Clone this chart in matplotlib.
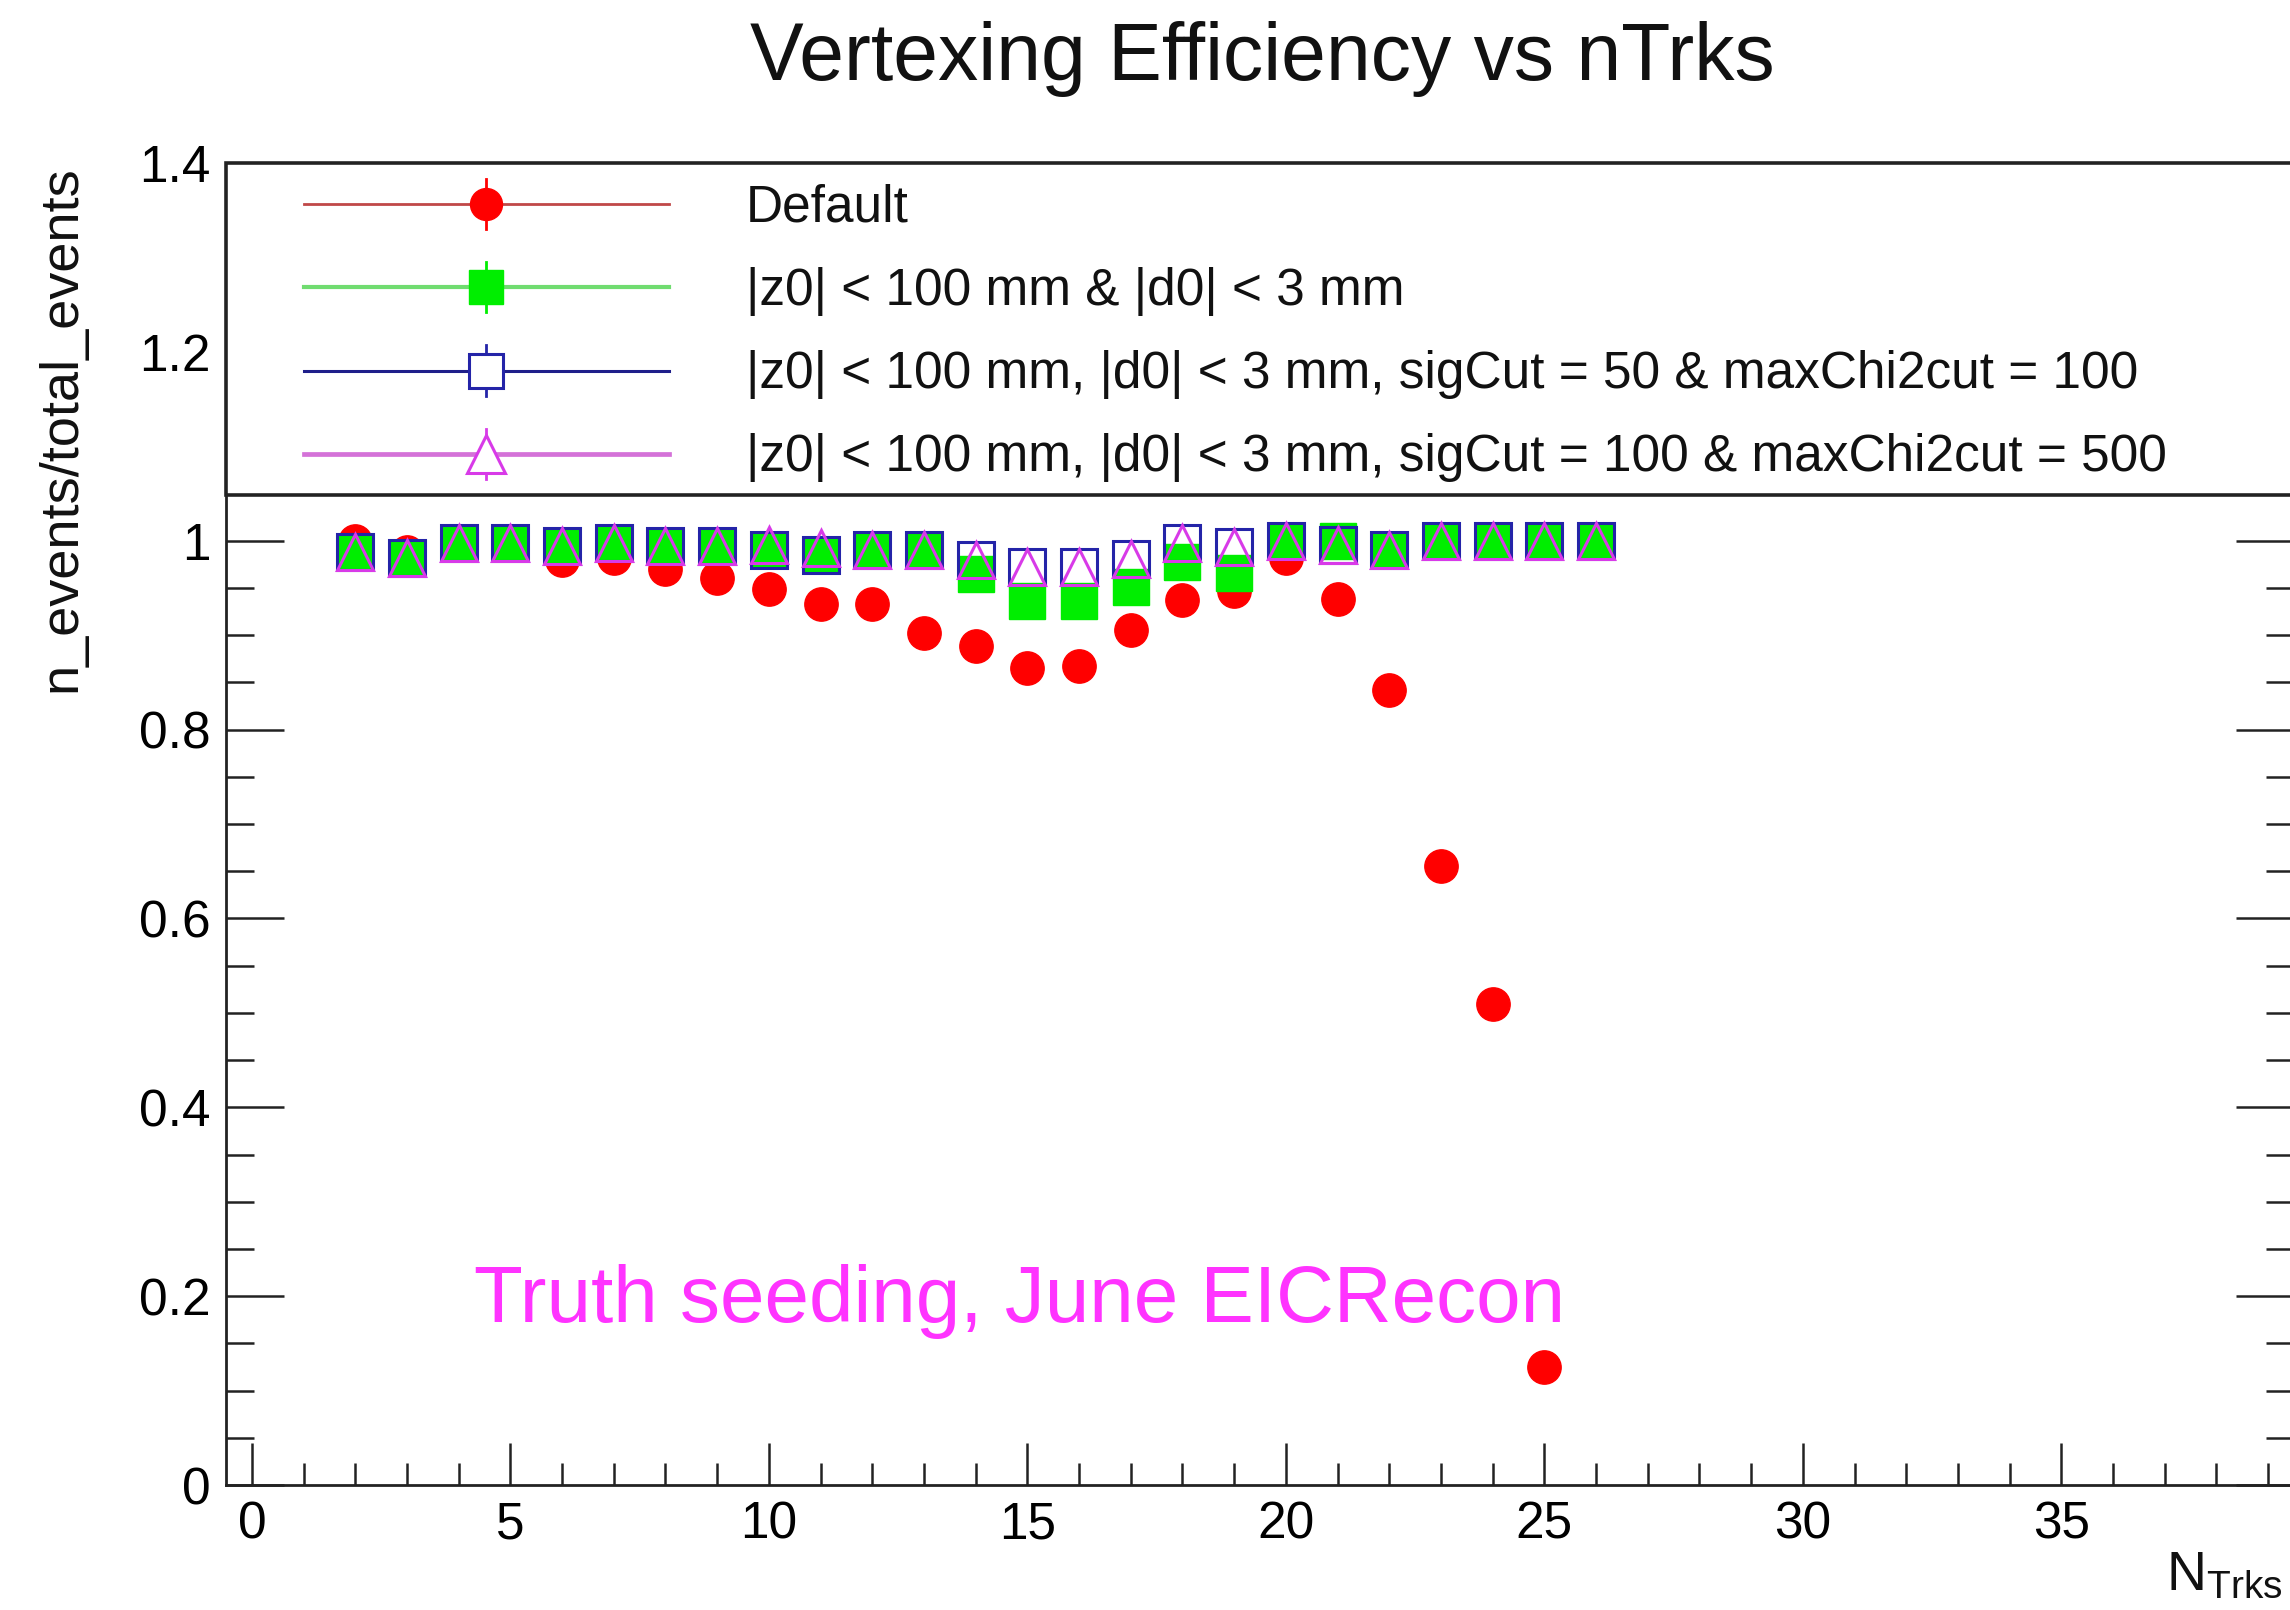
#!/usr/bin/env python3

import numpy as np
import matplotlib as mpl
mpl.use('Agg')
import matplotlib.pyplot as plt
from matplotlib.patches import Rectangle
from matplotlib.ticker import MultipleLocator, FuncFormatter

# efficiency per number of tracks
ntrks = [2, 3, 4, 5, 6, 7, 8, 9, 10, 11, 12, 13, 14, 15, 16, 17, 18, 19, 20,
         21, 22, 23, 24, 25, 26]
ntrks_default = ntrks[:-1]
eff_default = [1.0, 0.988, 1.0, 1.0, 0.980, 0.982, 0.970, 0.960, 0.949, 0.933,
               0.933, 0.902, 0.889, 0.865, 0.867, 0.905, 0.937, 0.947, 0.982,
               0.938, 0.842, 0.655, 0.509, 0.125]
eff_z0d0 = [0.988, 0.982, 0.998, 0.998, 0.994, 0.998, 0.994, 0.994, 0.990, 0.985,
            0.990, 0.990, 0.965, 0.936, 0.936, 0.951, 0.977, 0.966, 1.0, 1.0,
            0.990, 1.0, 1.0, 1.0, 1.0]
eff_sig50 = [0.988, 0.982, 0.998, 0.998, 0.994, 0.998, 0.994, 0.994, 0.990, 0.985,
             0.990, 0.990, 0.980, 0.972, 0.972, 0.981, 0.998, 0.993, 1.0, 0.995,
             0.990, 1.0, 1.0, 1.0, 1.0]
eff_sig100 = [0.988, 0.982, 0.998, 0.998, 0.994, 0.998, 0.994, 0.994, 0.995, 0.992,
              0.990, 0.990, 0.980, 0.972, 0.972, 0.981, 0.998, 0.993, 1.0, 0.995,
              0.990, 1.0, 1.0, 1.0, 1.0]

labels = ['Default',
          '|z0| < 100 mm & |d0| < 3 mm',
          '|z0| < 100 mm, |d0| < 3 mm, sigCut = 50 & maxChi2cut = 100',
          '|z0| < 100 mm, |d0| < 3 mm, sigCut = 100 & maxChi2cut = 500']

FONT = 'Liberation Sans'
mpl.rcParams['font.family'] = [FONT, 'DejaVu Sans']
mpl.rcParams['mathtext.fontset'] = 'custom'
mpl.rcParams['mathtext.rm'] = FONT

fig = plt.figure(figsize=(22.9, 16.1), dpi=100)
ax = fig.add_axes([226/2290, 1-1485/1610, 2068/2290, (1485-163)/1610])
ax.set_xlim(-0.5, 39.5)
ax.set_ylim(0, 1.4)

# marker styles (ROOT 20, 21, 25, 26)
styles = [
    dict(marker='o', ms=24, mfc='#ff0000', mec='#ff0000', mew=1),
    dict(marker='s', ms=26, mfc='#00ee00', mec='#00ee00', mew=1),
    dict(marker='s', ms=26, mfc='none', mec='#2424a8', mew=2.2),
    dict(marker='^', ms=26, mfc='none', mec='#d83ae8', mew=2.2),
]
series = [(ntrks_default, eff_default), (ntrks, eff_z0d0),
          (ntrks, eff_sig50), (ntrks, eff_sig100)]
for i, (xs, ys) in enumerate(series):
    ax.plot(xs, ys, ls='none', zorder=3+i, **styles[i])

# axis cosmetics, ROOT style
ax.xaxis.set_major_locator(MultipleLocator(5))
ax.xaxis.set_minor_locator(MultipleLocator(1))
ax.yaxis.set_major_locator(MultipleLocator(0.2))
ax.yaxis.set_minor_locator(MultipleLocator(0.05))
ax.yaxis.set_major_formatter(FuncFormatter(lambda v, p: '%g' % round(v, 2)))
ax.tick_params(axis='both', which='both', direction='in', width=1.8,
               labelsize=37, color='#222222')
ax.tick_params(axis='x', which='major', length=30, pad=11, top=False)
ax.tick_params(axis='x', which='minor', length=16, top=False)
ax.tick_params(axis='y', which='major', length=42, pad=11, right=True)
ax.tick_params(axis='y', which='minor', length=20, right=True)
for s in ax.spines.values():
    s.set_linewidth(2)
    s.set_color('#222222')
ax.spines['top'].set_visible(False)

# legend box drawn by hand
leg_bottom = 0.749
ax.add_patch(Rectangle((0, leg_bottom), 1.02, 1 - leg_bottom,
                       transform=ax.transAxes, facecolor='white',
                       edgecolor='#222222', lw=2.6, zorder=10, clip_on=False))
rows = [0.969, 0.906, 0.843, 0.780]
line_cols = ['#c04848', '#70dc70', '#1e1e8a', '#d472d8']
line_w = [2.0, 3.0, 2.2, 3.4]
leg_ms = [23, 24, 25, 27]
for i, yr in enumerate(rows):
    ax.plot([0.0377, 0.2142], [yr, yr], transform=ax.transAxes,
            color=line_cols[i], lw=line_w[i], zorder=11, clip_on=False)
    ax.plot([0.1257, 0.1257], [yr - 0.019, yr + 0.019], transform=ax.transAxes,
            color=styles[i]['mec'], lw=2.0, zorder=11, clip_on=False)
    st = dict(styles[i])
    st['ms'] = leg_ms[i]
    if st['mfc'] == 'none':
        st['mfc'] = 'white'
    ax.plot([0.1257], [yr], transform=ax.transAxes, ls='none', zorder=12,
            clip_on=False, **st)
    ax.text(0.2515, yr - 0.003, labels[i], transform=ax.transAxes,
            fontsize=37, va='center', ha='left', color='#111111', zorder=13)

# annotation
ax.text(4.3, 0.173, 'Truth seeding, June EICRecon', fontsize=57.6,
        color='#ff33ff', ha='left', va='baseline', zorder=8)

fig.text(1262/2290, 1 - 80/1610, 'Vertexing Efficiency vs nTrks',
         fontsize=58, ha='center', va='baseline', color='#111111')
fig.text(61/2290, 1 - 429/1610, 'n_events/total_events', fontsize=39,
         rotation=90, ha='center', va='center', color='#111111')
fig.text(2166/2290, 1 - 1590/1610, r'$\mathregular{N_{Trks}}$', fontsize=40,
         ha='left', va='baseline', color='#111111')

fig.savefig('out.png', dpi=100, facecolor='white')
